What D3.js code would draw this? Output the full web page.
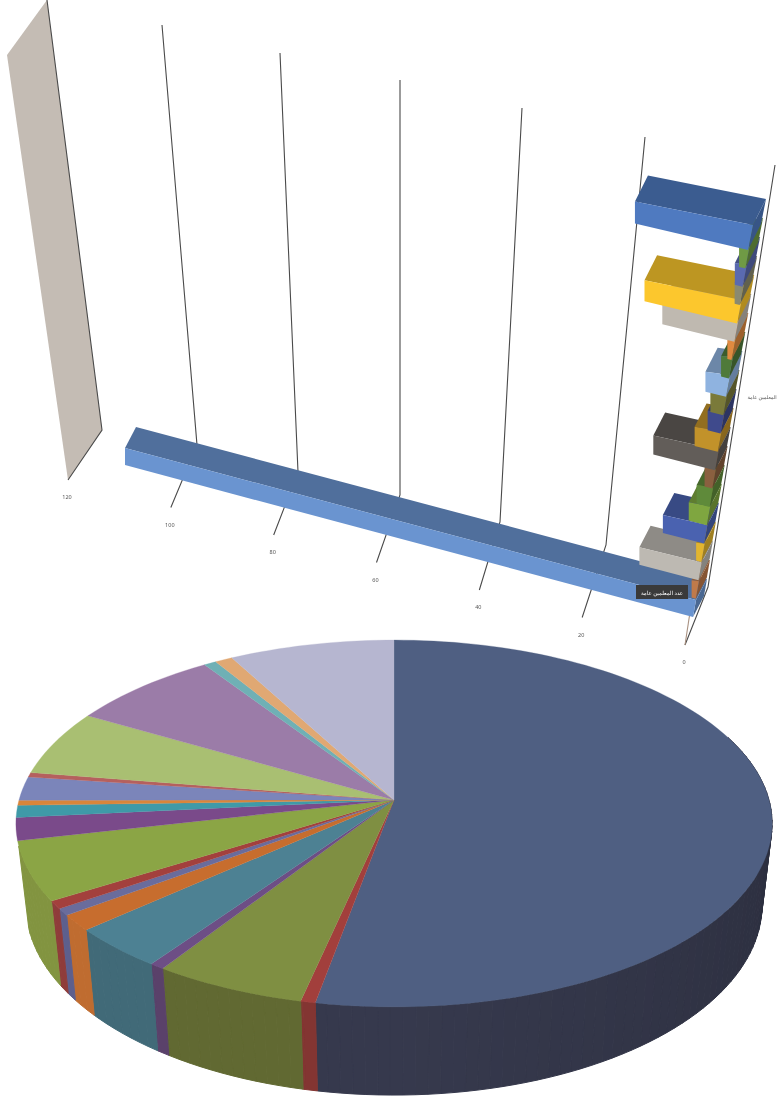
<!DOCTYPE html>
<html>
<head>
<meta charset="utf-8">
<script src="https://cdn.jsdelivr.net/npm/d3@7"></script>
<style>
html, body { margin: 0; padding: 0; background: #fff; }
svg { display: block; filter: blur(0.5px); }
text { font-family: "Noto Sans", "DejaVu Sans", sans-serif; }
</style>
</head>
<body>
<svg width="778" height="1100"></svg>
<script>
// bars, bottom to top along the category axis
const barCategories = ["b0","b1","b2","b3","b4","b5","b6","b7","b8","b9","b10",
                       "b11","b12","b13","b14","b15","b16","b17","b18","b19","b20"];
const barValues = [110.5, 0.8, 11.5, 1, 8, 3.5, 2.5, 1.5, 12, 4.5, 2.5,
                   2.5, 4, 1.5, 0.8, 14, 18, 1, 1.5, 1.2, 22];
const barColors = ["#6a94d0","#c07a4a","#bdb9b2","#e3b52f","#4a62b0","#7fa640","#5f8a3a","#8a6040","#625d59","#c2922a","#3f4a8c",
                   "#7a7a3a","#8fb3e0","#4f7a3a","#e08a40","#bfb9b0","#fcc72d","#8a8a70","#5a6ab0","#6f9a45","#4f7ac0"];
const valueTicks = [0, 20, 40, 60, 80, 100, 120];

// pie slices, clockwise from the top
const pieValues = [53, 0.56, 5.8, 0.56, 3.7, 1.4, 0.6, 0.7, 5.25, 2, 1.05, 0.45, 2.1, 0.4, 5.8, 7.3, 0.6, 0.85, 8];
const pieColors = ["#4f5f82","#a23f3c","#7f8f42","#6d4e85","#4d8193","#c76d2e","#6a6c9c","#a3403d","#8ba545","#7a4a8a",
                   "#3f9aa8","#d9853a","#7b85ba","#b5605e","#a9bf72","#9b7ca8","#6fb0b5","#e0a873","#b6b6d0"];
const pieSideColors = ["#34374a","#7e3330","#5e6530","#573f66","#3f6674","#b8682e","#5a5c88","#8a3a38","#7d8f3e","#6a4078",
                       "#357f8a","#c0752f","#6a74a4","#9a4a48","#8fa35c","#85688f","#5c959a","#c08f60","#9a9ab4"];

const svg = d3.select("svg");

// ---------- 3D bar chart ----------
const scFrontX = d3.scaleLinear().domain([0, 120]).range([685, 68]);
const scFrontY = d3.scaleLinear().domain([0, 120]).range([645, 480]);
const scBackX = d3.scaleLinear().domain(valueTicks).range([708, 606, 500, 400, 298, 197, 102]);
const scBackY = d3.scaleLinear().domain(valueTicks).range([587, 545, 522, 495, 472, 445, 430]);
const scTopX = d3.scaleLinear().domain(valueTicks).range([775, 645, 522, 400, 280, 162, 47]);
const scTopY = d3.scaleLinear().domain(valueTicks).range([165, 137, 108, 80, 53, 25, 0]);

const scCat = d3.scalePoint().domain(barCategories).range([0, 1]);
const unitX = -5.14;

function barPoints(v, cat) {
    const t = scCat(cat);
    const x0 = 693 + 55 * t, y0 = 617 - 367 * t;
    const unitY = -1.375 + 0.175 * t;
    const h = 17 + 5 * t;
    const dx = 11 + 2 * t, dy = -21 - 5 * t;
    const lean = 3 + 2 * t;
    const bl = [x0 + unitX * v, y0 + unitY * v];
    const br = [x0, y0];
    const tl = [bl[0], bl[1] - h];
    const tr = [br[0] + lean, br[1] - h - 3 * t];
    return {
        front: [bl, br, tr, tl],
        top: [tl, tr, [tr[0] + dx, tr[1] + dy], [tl[0] + dx, tl[1] + dy]],
        side: [br, tr, [tr[0] + dx, tr[1] + dy], [br[0] + dx, br[1] + dy]]
    };
}

const line = d3.line();

// wall at the end of the value axis
svg.append("path")
    .attr("d", line([[scTopX(120), scTopY(120)], [scBackX(120), scBackY(120)],
                     [scFrontX(120), scFrontY(120)], [7, 55]]) + "Z")
    .attr("fill", "#c4bcb4");

// gridlines
const gridG = svg.append("g").attr("stroke", "#4a4a4a").attr("stroke-width", 1.1).attr("fill", "none");
valueTicks.forEach(v => {
    gridG.append("path").attr("d", line([[scTopX(v), scTopY(v)], [scBackX(v), scBackY(v)], [scFrontX(v), scFrontY(v)]]));
});
gridG.append("path").attr("stroke", "#a89080")
    .attr("d", line([[scFrontX(0), scFrontY(0)], [750, 220]]));

// tick labels
svg.append("g").selectAll("text").data(valueTicks).enter().append("text")
    .attr("x", d => scFrontX(d) - 1)
    .attr("y", d => scFrontY(d) + 19)
    .attr("text-anchor", "middle")
    .attr("font-size", 5.5)
    .attr("fill", "#555")
    .text(d => d);

// upper bars sit in front of the lower ones
barCategories.map((c, i) => ({cat: c, value: barValues[i], color: barColors[i]}))
    .forEach(d => {
        const p = barPoints(d.value, d.cat);
        svg.append("path").attr("d", line(p.side) + "Z").attr("fill", d3.rgb(d.color).darker(1));
        svg.append("path").attr("d", line(p.top) + "Z").attr("fill", d3.rgb(d.color).darker(0.8));
        svg.append("path").attr("d", line(p.front) + "Z").attr("fill", d.color);
    });

// data label and axis title
svg.append("rect").attr("x", 636).attr("y", 585).attr("width", 52).attr("height", 14).attr("fill", "#3a3a3a");
svg.append("text").attr("x", 662).attr("y", 594.5).attr("text-anchor", "middle")
    .attr("font-size", 5.5).attr("fill", "#fff").attr("direction", "rtl").text("عدد المعلمين عامة");
svg.append("text").attr("x", 762).attr("y", 399).attr("text-anchor", "middle")
    .attr("font-size", 5).attr("fill", "#555").attr("direction", "rtl").text("المعلمين عامة");

// ---------- 3D pie chart ----------
const pie = d3.pie().sort(null).value(d => d);
const arcs = pie(pieValues);

// circle in plan -> screen, with perspective
const persp = -0.128;
function rimTop(a) {
    const u = Math.sin(a), v = -Math.cos(a);
    const w = 1 + persp * v;
    return [394 + 375 * u / w, (78 * v + 800) / w];
}
function rimBottom(a) {
    const u = Math.sin(a), v = -Math.cos(a);
    const w = 1 + persp * v;
    return [394 + 365 * u / w, (74.2 * v + 880.7) / w];
}
const angleStep = 0.03;

function angles(d) {
    const out = d3.range(d.startAngle, d.endAngle, angleStep);
    out.push(d.endAngle);
    return out;
}

// side wall, cut off where the rim turns away on the left
arcs.forEach((d, i) => {
    const as = angles(d);
    for (let k = 0; k < as.length - 1; k++) {
        const a0 = as[k], a1 = as[k + 1];
        const mid = (a0 + a1) / 2;
        if (Math.cos(mid) > 0.35 || mid > 4.47) continue;
        const bands = d3.interpolateRgb(d3.rgb(pieSideColors[i]).darker(0.5), d3.rgb(pieSideColors[i]).brighter(0.1));
        const shade = Math.min(1, Math.max(0, (mid - 1.6) / 1.5));
        svg.append("path")
            .attr("d", line([rimTop(a0), rimTop(a1), rimBottom(a1), rimBottom(a0)]) + "Z")
            .attr("fill", bands(shade))
            .attr("stroke", bands(shade))
            .attr("stroke-width", 1);
    }
});

// top face
arcs.forEach((d, i) => {
    const pts = [[394, 800]].concat(angles(d).map(rimTop));
    svg.append("path")
        .attr("d", line(pts) + "Z")
        .attr("fill", pieColors[i])
        .attr("stroke", pieColors[i])
        .attr("stroke-width", 0.3);
});
</script>
</body>
</html>
